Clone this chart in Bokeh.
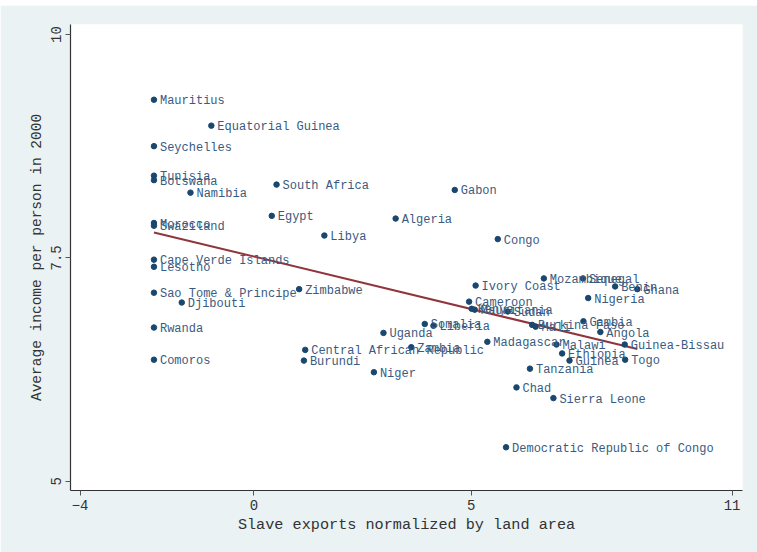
import numpy as np
from bokeh.plotting import figure
from bokeh.models import ColumnDataSource, Range1d, LabelSet, FixedTicker, Spacer
from bokeh.layouts import column
from bokeh.core.properties import value
from bokeh.embed import file_html
from bokeh.resources import INLINE

# Country, log slave exports per land area, log income per person (2000)
countries = [
    "Mauritius", "Equatorial Guinea", "Seychelles", "Tunisia", "Botswana",
    "Namibia", "South Africa", "Gabon", "Egypt", "Algeria",
    "Morocco", "Swaziland", "Libya", "Congo", "Cape Verde Islands",
    "Lesotho", "Mozambique", "Senegal", "Benin", "Ghana",
    "Ivory Coast", "Nigeria", "Sao Tome & Principe", "Zimbabwe", "Djibouti",
    "Cameroon", "Kenya", "Mauritania", "Sudan", "Somalia",
    "Liberia", "Uganda", "Rwanda", "Burkina Faso", "Mali",
    "Gambia", "Angola", "Madagascar", "Malawi", "Guinea-Bissau",
    "Central African Republic", "Zambia", "Ethiopia", "Guinea", "Togo",
    "Comoros", "Burundi", "Niger", "Tanzania", "Chad",
    "Sierra Leone", "Democratic Republic of Congo",
]
slave_exports = [
    -2.30, -0.98, -2.30, -2.30, -2.30,
    -1.46, 0.52, 4.62, 0.41, 3.26,
    -2.30, -2.30, 1.62, 5.61, -2.30,
    -2.30, 6.67, 7.57, 8.31, 8.82,
    5.10, 7.69, -2.30, 1.04, -1.66,
    4.95, 5.01, 5.08, 5.84, 3.93,
    4.13, 2.98, -2.30, 6.40, 6.48,
    7.58, 7.97, 5.37, 6.96, 8.53,
    1.18, 3.62, 7.09, 7.26, 8.54,
    -2.30, 1.15, 2.76, 6.35, 6.04,
    6.89, 5.80,
]
log_income = [
    9.27, 8.98, 8.75, 8.42, 8.37,
    8.23, 8.32, 8.26, 7.97, 7.94,
    7.89, 7.86, 7.75, 7.71, 7.48,
    7.40, 7.27, 7.27, 7.18, 7.15,
    7.19, 7.05, 7.11, 7.15, 7.00,
    7.01, 6.93, 6.92, 6.90, 6.76,
    6.74, 6.66, 6.72, 6.75, 6.73,
    6.79, 6.67, 6.56, 6.53, 6.53,
    6.47, 6.50, 6.43, 6.35, 6.36,
    6.36, 6.35, 6.22, 6.26, 6.05,
    5.93, 5.38,
]

x_ticks = [-4, 0, 5, 11]
y_ticks = [5, 7.5, 10]
y_tick_labels = ["5", "7.5", "10"]

MONO = "Liberation Mono"
NAVY = "#1A476F"
MAROON = "#90353B"
REGION = "#EAF2F3"

x = np.array(slave_exports)
y = np.array(log_income)

# Linear fit drawn across the observed range of x
slope, intercept = np.polyfit(x, y, 1)
fit_x = np.array([x.min(), x.max()])
fit_y = intercept + slope * fit_x

p = figure(
    width=757, height=547,
    x_range=Range1d(-4.22, 11.24), y_range=Range1d(4.896, 10.112),
    output_backend="svg", toolbar_location=None,
    min_border_left=70, min_border_right=15,
    min_border_top=19, min_border_bottom=62,
)
p.background_fill_color = "white"
p.border_fill_color = REGION
p.outline_line_color = None
p.xgrid.visible = False
p.ygrid.visible = False

src = ColumnDataSource(dict(x=x, y=y, name=countries))

p.line(fit_x, fit_y, line_color=MAROON, line_width=2)
p.scatter("x", "y", source=src, size=5.5, fill_color=NAVY, line_color=NAVY)

labels = LabelSet(
    x="x", y="y", text="name", source=src,
    x_offset=6, y_offset=-1.5,
    text_font=value(MONO), text_font_size=value("12px"),
    text_color=value("#3A5B80"), text_baseline=value("middle"),
    text_align=value("left"),
)
p.add_layout(labels)

for ax in (p.xaxis[0], p.yaxis[0]):
    ax.axis_line_color = "#333333"
    ax.axis_line_width = 1.2
    ax.major_tick_line_color = "#555555"
    ax.major_tick_out = 5
    ax.major_tick_in = 0
    ax.minor_tick_out = 0
    ax.minor_tick_in = 0
    ax.major_label_text_font = MONO
    ax.major_label_text_font_size = "14px"
    ax.major_label_text_color = "#333333"
    ax.axis_label_text_font = MONO
    ax.axis_label_text_font_style = "normal"
    ax.axis_label_text_color = "#333333"

p.xaxis.ticker = FixedTicker(ticks=x_ticks)
p.xaxis.axis_label = "Slave exports normalized by land area"
p.xaxis.axis_label_text_font_size = "15.2px"
p.xaxis.major_label_standoff = 4
p.xaxis.axis_label_standoff = 3

p.yaxis.ticker = FixedTicker(ticks=y_ticks)
p.yaxis.major_label_overrides = {t: s for t, s in zip(y_ticks, y_tick_labels)}
p.yaxis.major_label_orientation = "vertical"
p.yaxis.axis_label = "Average income per person in 2000"
p.yaxis.axis_label_text_font_size = "14.5px"
p.yaxis.major_label_standoff = 4
p.yaxis.axis_label_standoff = 4

layout = column(Spacer(width=757, height=5), p, spacing=0)

open("out.html", "w").write(file_html(layout, INLINE))
